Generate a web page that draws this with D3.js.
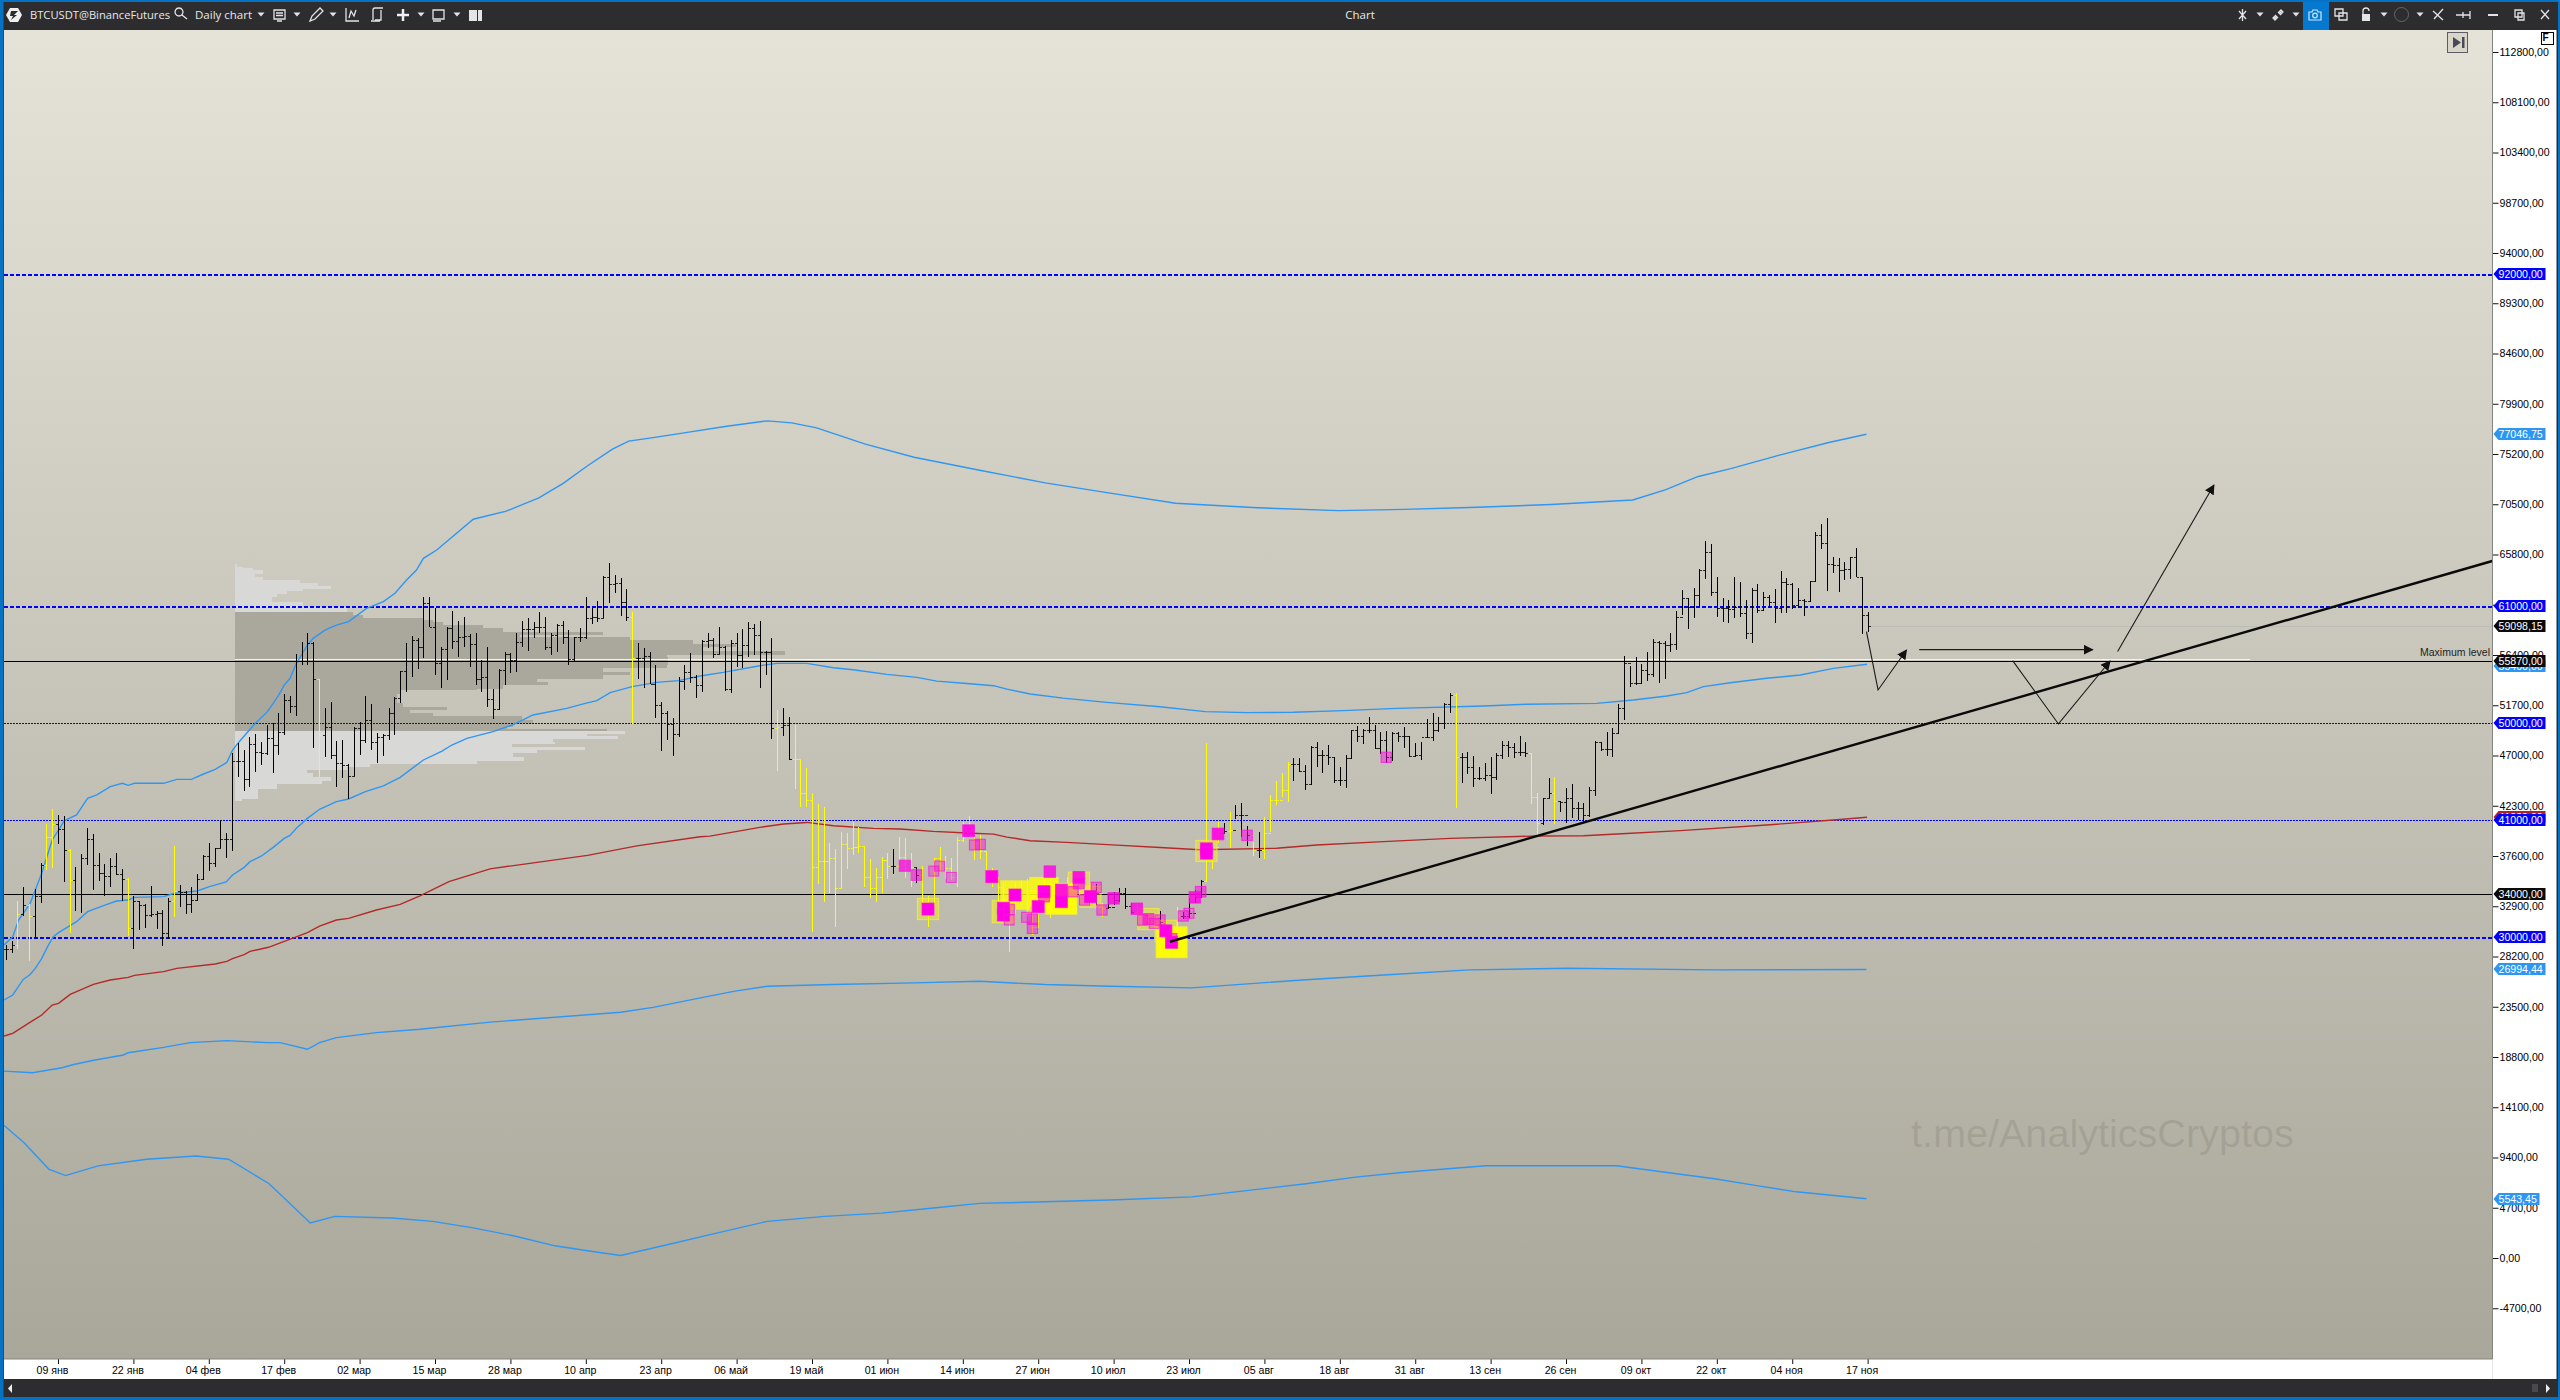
<!DOCTYPE html>
<html>
<head>
<meta charset="utf-8">
<title>Chart</title>
<script src="https://cdn.jsdelivr.net/npm/d3@7"></script>
<style>
html, body { margin: 0; padding: 0; background: #2d2d30; overflow: hidden; }
svg { display: block; }
</style>
</head>
<body>
<div id="chart"></div>
<script>
// prices below are in thousands of USDT. bar 1 = 31 dec
const firstOpen = 28.9;
const barHigh = [29.28,29.65,33.42,34.73,33.11,34.48,36.98,40.56,42.03,41.44,41.34,38.22,36.6,37.79,40.19,39.66,37.85,36.82,37.44,37.91,36.42,35.57,33.86,33.42,33.08,34.82,32.49,32.55,33.7,38.57,34.92,34.33,34.67,35.92,37.66,38.79,38.38,40.94,39.72,47.2,
48.2,47.51,48.76,48.98,48.23,49.85,50,50.94,52.72,52.6,56.49,57.65,58.43,57.58,54.2,51.41,52.03,48.39,48.45,46.2,49.69,50.16,52.6,51.78,49.13,49.01,51.41,52.5,54.9,57.49,58.2,57.96,61.85,61.79,60.76,57.18,59.05,60.48,59.58,59.92,
58.36,58.43,55.93,57.18,53.19,55.06,56.65,56.55,58.43,59.61,59.89,59.52,60.39,59.92,58.43,59.3,59.61,58.74,58.11,58.89,61.79,60.76,61.45,63.82,64.97,63.88,63.57,62.54,60.39,57.49,57.02,56.71,55.46,52.03,51.16,50.47,54.31,55.46,56.55,54.53,
57.8,58.43,57.96,58.98,57.24,57.8,58.42,58.8,59.51,59.3,59.61,56.8,58.02,51.25,51.47,50.63,49.85,46.57,45.79,43.52,42.46,42.21,38.78,38.22,39.87,39.71,40.81,40.34,38.56,37.28,36.44,37.47,37.84,38.22,39.4,39.25,37.84,36.44,36.69,33.85,
37.38,38.4,37.62,37.38,39.41,40.81,41.34,39.57,39.57,38.1,36.45,35.67,35.04,33.48,35.2,35.36,35.42,33.95,35.04,35.36,35.51,35.36,35.04,35.67,35.36,35.82,34.73,35.04,34.98,33.17,34.02,34.26,34.58,34.58,33.17,33.24,32.24,32.24,32.08,32.46,
31.15,30.06,32.8,32.39,33.64,34.42,35.36,48.14,38.94,40.81,40.66,41.75,42.37,42.53,40.41,38.94,39.88,41.28,43.31,44.65,45.33,46.43,46.74,46.74,46.11,47.89,48.23,47.52,48.02,46.83,45.96,47.05,49.39,49.79,49.45,50.57,49.86,49.23,49.33,49.17,
49.23,49.7,48.86,48.2,48.3,50.39,51.01,50.63,51.88,52.82,52.88,47.27,47.36,46.96,45.96,46.27,46.89,47.2,48.39,48.39,48.2,48.83,48.3,47.27,43.53,43.06,44.93,45.02,42.78,43.93,44.31,42.68,42.53,44.02,48.39,48.3,49.23,49.54,51.82,56.31,
55.37,56.18,55.53,56.71,57.87,57.74,57.74,58.49,60.52,62.48,61.76,62.7,64.46,67.1,66.78,63.73,61.76,61.55,63.73,63.26,61.55,62.64,63.01,62.33,62.01,62.54,64.29,63.57,63.1,62.64,61.61,63.35,67.88,68.65,69.19,65.6,65.44,65.13,65.6,66.38,63.67,60.45];
const barLow = [27.87,28.56,28.87,31.99,27.75,29.81,33.23,36.29,36.45,38.69,35.2,30.37,32.49,32.3,36.73,34.42,35.29,33.86,34.67,35.82,33.36,30.12,28.87,30.68,30.83,31.86,30.74,29.18,29.81,31.86,32.8,32.14,32.24,33.36,35.35,36.2,36.54,38.32,37.38,38.04,
45.02,43.71,44.02,45.49,46.11,47.04,45.33,47.04,48.92,50.94,50.72,55.46,55.46,47.67,45.02,46.89,46.64,44.02,44.86,42.9,45.08,47.04,48.14,47.51,46.26,46.98,48.45,48.92,51.88,52.97,54.31,55.06,56.09,58.99,54.53,53.28,54.06,56.93,56.24,57.12,
55.31,53.59,52.97,51.57,50.38,51.25,53.59,54.68,54.84,57.12,56.8,57.96,58.49,56.87,56.4,56.71,57.43,55.49,55.71,57.65,57.86,59.3,59.52,59.83,61.29,62.17,60.08,59.61,49.94,54.12,53.28,53.69,50.47,47.45,48.45,46.95,48.7,53.12,53.75,52.34,
52.97,57.02,56.09,56.49,53.06,52.81,55.3,55.15,56.24,56.4,53.28,54.49,48.51,45.54,48.82,46.57,43.83,42.15,42.21,30.45,34.94,33.32,34.1,30.98,34.57,36.35,37.69,37.84,34.66,33.63,33.26,34.1,35.41,35.91,37.06,35.5,34.73,35.1,33.01,30.92,
32.92,36.13,35.41,35.35,34.67,38.94,39.72,37.23,37.29,35.04,34.73,33.33,32.24,28.65,32.24,33,31.93,30.21,31,33.48,31.77,32.55,33.02,32.86,33.8,33.64,33.17,33.02,33.02,31.93,32.71,33.02,33.33,32.61,32.14,32.08,31.15,31.15,30.84,30.52,
29.9,29.43,29.53,31.68,31.77,33.17,33.8,35.2,36.35,38.79,39.72,38.32,41.06,39.35,38.57,37.6,37.45,37.29,39.82,42.37,43.15,42.68,44.62,45.49,43.78,44.24,45.9,45.4,46.11,44.4,44.18,43.93,46.67,48.23,48.08,49.14,47.58,47.14,46.27,46.52,
48.3,47.67,46.83,46.83,46.58,48.61,48.36,49.23,49.45,51.01,42.06,44.4,45.27,44.09,44.71,44.65,43.37,44.71,46.64,46.89,46.74,46.96,46.83,42.43,39.5,40.5,43,40.56,41.75,40.72,41.12,40.97,40.81,41.28,43.21,47.42,46.95,46.83,49.01,50.32,
53.38,53.6,53.69,54,54.37,53.75,54.16,56.71,56.87,60.14,58.8,59.83,60.92,63.48,61.95,59.99,59.52,59.43,59.83,59.99,57.87,57.49,60.3,60.55,60.77,59.36,60.3,60.3,60.67,60.77,60.08,61.39,63.26,66.29,62.39,64.1,62.26,63.42,63.48,63.67,58.33,58.58];
const barClose = [28.9,29.28,32.17,33,31.99,33.9,36.8,39.41,40.56,40.15,38.16,35.35,34,37.38,39.16,36.73,35.98,35.76,36.66,35.89,35.45,30.83,33.42,32.99,32.08,32.17,32.3,30.37,33.39,34.3,34.2,33.11,33.48,35.45,37.6,36.91,38.32,39.16,39.16,46.45,
46.45,44.77,48.04,47.32,47.2,48.6,47.95,49.23,52.19,51.63,55.87,55.87,57.49,54.12,48.9,49.63,47.04,46.26,46.08,45.08,49.6,48.45,50.32,48.29,48.7,48.92,50.94,52.34,54.9,55.87,57.8,57.18,61.29,58.99,55.62,56.99,58.89,57.74,58.05,58.18,
57.4,54.12,54.37,52.25,51.32,54.99,56.49,55.93,57.65,58.8,58.8,58.99,58.99,57.12,58.27,59.2,58.05,55.99,58.05,58.05,59.83,59.98,59.89,63.73,63.04,63.1,61.39,59.98,56.09,56.09,56.3,53.69,51.72,51,49.94,49.01,53.99,54.84,54.37,53.59,
57.74,57.8,56.49,57.17,53.18,57.49,56.4,57.33,58.89,58.27,56.71,56.71,49.54,49.69,49.85,46.64,46.64,43.52,42.83,36.6,37.16,37.16,37.38,34.57,38.69,38.31,38.47,38.53,35.6,34.57,35.6,37.22,36.66,36.66,37.53,37.22,36.6,35.82,33.32,33.17,
37.38,37.22,36.44,35.66,39.1,39.88,40.03,38.79,38.1,35.67,35.51,34.73,32.55,32.24,34.11,33.95,32.08,31,34.73,34.11,34.42,34.89,33.64,33.95,34.73,35.36,33.95,33.95,34.11,32.71,32.86,33.48,34.17,32.92,32.39,32.24,31.6,31.46,31.77,31.46,
30.06,29.53,31.99,31.99,32.24,33.73,35.29,37.23,38.47,39.72,39.97,40.03,41.44,41.44,39.57,38.16,38.16,39.72,42.84,42.84,43.78,46.18,46.21,45.55,44.31,47.83,47.05,47.05,46.83,44.71,44.71,46.74,49.39,48.86,49.39,49.39,47.67,48.45,46.83,49.08,
48.83,48.83,46.96,47.05,48.76,48.76,49.39,50.01,51.79,52.66,46.83,46.83,45.96,44.87,44.87,45.18,44.96,47.05,47.98,47.77,47.36,47.36,47.2,43.15,40.66,43,43.46,42.78,42.62,43,42.06,42.06,41.44,43.78,48.3,47.58,47.58,49.07,51.41,55.62,
53.75,53.81,55,54.62,57.65,57.55,57.34,57.4,59.99,61.7,60.92,62.01,64.35,66,62.26,60.77,60.77,60.67,60.86,60.3,58.43,62.48,60.61,61.86,61.39,60.77,63.26,63.04,61.08,61.55,61.45,63.32,67.63,66.91,64.91,64.82,64.35,64.41,65.54,63.67,60.14,59.1];
// bars the platform paints yellow
const yellowBars = [3,5,8,9,12,22,30,55,109,134,137,138,139,140,141,142,143,144,145,146,147,148,149,150,151,152,153,155,156,157,159,160,161,162,163,164,165,166,167,168,169,170,171,172,173,174,175,176,177,178,179,180,181,182,183,184,185,186,187,188,190,196,197,198,199,201,202,203,208,209,210,212,216,218,219,220,221,222,251,264,265,268];

const tickBars = [10,23,36,49,62,75,88,101,114,127,140,153,166,179,192,205,218,231,244,257,270,283,296,309,322];
const tickLabels = ["09 янв","22 янв","04 фев","17 фев","02 мар","15 мар","28 мар","10 апр","23 апр","06 май","19 май","01 июн","14 июн","27 июн","10 июл","23 июл","05 авг","18 авг","31 авг","13 сен","26 сен","09 окт","22 окт","04 ноя","17 ноя"];
const priceTicks = [112800,108100,103400,98700,94000,89300,84600,79900,75200,70500,65800,61100,56400,51700,47000,42300,37600,32900,28200,23500,18800,14100,9400,4700,0,-4700];

// channel lines, as bar number / price pairs
const bandTopBars = [0.7,2.2,3.2,5.2,7.2,9,10.1,11.1,13.2,15.1,16.7,19,21.1,22.1,23.2,28.2,30.5,33,35.1,37.1,39.1,40.1,41.1,43,44,46.1,47.1,48,49,50,51.1,53,54,56.1,58,60.1,63.2,66.1,68.1,70.1,71.8,73,75.3,81.6,87.3,92.9,97.1,101.3,105.6,108.4,112.6,118.2,125.3,132.3,136.5,140.8,149.2,157.6,168.9,180.2,191.4,202.7,216.8,230.8,242.1,253.4,267.4,281.5,287.1,292.8,298.4,306.8,315.3,321.8];
const bandTopValues = [29.28,30.05,31.61,33.17,35.98,39.1,40.03,40.91,41.44,42.99,43.31,44.09,44.4,44.21,44.4,44.4,44.77,44.77,45.27,45.71,46.35,47.51,48.2,49.38,50,51.1,51.88,52.6,53.59,54.22,55.62,57.33,57.96,58.74,59.2,59.52,60.76,61.39,62.17,63.41,64.35,65.44,66.22,69.1,69.86,71.1,72.46,74.1,75.66,76.4,76.73,77.2,77.8,78.3,78.11,77.65,76.12,74.9,73.68,72.5,71.54,70.6,70.17,69.9,70.02,70.2,70.47,70.9,71.85,73.1,73.83,75.1,76.28,77.05];
const bandMidBars = [0.7,2.2,4,5.1,6.1,7.2,8.2,9.2,10.1,13.2,15.1,18.2,20.1,22.1,23.2,28.2,30.1,34,36.1,39,40.1,42.1,43.1,45.1,47.1,49,50,51.1,53,55.1,58,60.1,63,66.1,69,73,76.2,77.9,80.5,85,88.5,91.9,97.7,100.9,102.9,105.2,109,113.2,117,120.7,124.7,131,134,139.1,143.7,147.1,152.9,158.1,161.5,166.7,171.3,173.6,177.6,183.3,190.8,200,207.8,215,223,231.6,240.8,255.8,263.2,275.3,281.6,287.4,290.8,293.7,298.3,304.6,310.4,316.1,321.9];
const bandMidValues = [24.13,24.6,26.06,26.47,27.09,28.03,29.12,30.05,30.43,31.46,32.39,33.02,33.39,33.48,33.73,33.8,34.11,34.33,34.73,35.17,35.82,36.54,37.07,37.6,38.41,39.25,39.53,40.19,41.12,41.97,42.68,42.93,43.62,44.15,44.96,46.58,47.42,47.98,48.6,49.23,49.88,50.79,51.41,51.88,52.13,52.88,53.44,53.84,54,54.43,54.77,55.4,55.62,55.62,55.21,55.02,54.59,54.31,53.96,53.74,53.53,53.21,52.75,52.37,51.97,51.56,51.1,51.01,51.04,51.2,51.41,51.63,51.79,51.88,52.19,52.57,52.88,53.44,53.81,54.22,54.53,55.15,55.53];
const vwapBars = [0.7,2.2,5.1,7.2,9,10.1,12.1,16.1,19,22.1,23.2,28.2,30.5,37.1,39.1,40.1,42.1,43.1,46.3,48.9,53,55.1,58,60.1,64.9,69,72.4,77.4,84.5,92.9,101.3,109.8,120.7,122.4,131,135.1,139.1,143.7,150.6,155.2,160.9,166.7,171.3,173.6,177.6,183.9,192.5,200,206.9,220.1,227,238.5,250,265,273,278.8,289.7,304.6,316.1,321.9];
const vwapValues = [20.76,21.01,22.01,22.73,23.66,23.82,24.66,25.6,26,26.25,26.44,26.78,27.09,27.5,27.75,28,28.37,28.68,29.06,29.59,30.43,31.05,31.61,31.77,32.55,33.08,33.86,35.2,36.4,37.03,37.66,38.55,39.4,39.46,40.28,40.59,40.74,40.43,40.18,40.12,39.9,39.75,39.65,39.37,39.03,38.87,38.62,38.4,38.19,38.32,38.63,38.94,39.25,39.47,39.5,39.66,39.97,40.5,40.97,41.22];
const bandLowBars = [0.6,5.6,10.7,12.7,16.4,21.3,22.1,28.2,32.8,39.1,46,48.3,53,55.1,58,64.9,72.4,84.5,107,112.6,121,126.7,132.3,143.6,157.6,168.9,180.2,191.4,205.5,225.2,239.3,253.4,270.2,295.6,321.8];
const bandLowValues = [17.48,17.33,17.79,18.1,18.52,18.99,19.2,19.7,20.14,20.33,20.14,20.14,19.52,20.14,20.61,21.08,21.39,22.06,22.98,23.44,24.35,24.96,25.42,25.58,25.73,25.88,25.58,25.42,25.27,26.03,26.49,26.95,27.1,26.95,26.99];
const bandBottomBars = [0.6,4.2,8.4,11.3,16.9,25.3,33.8,39.4,46.4,53.5,57.7,67.6,74.6,81.6,88.7,95.7,101.3,107,115.4,123.9,132.3,142.2,152,160.5,168.9,180.2,191.4,205.5,215.3,225.2,233.7,242.1,249.1,256.2,267.4,278.7,287.1,295.6,302.6,309.7,321.8];
const bandBottomValues = [12.44,10.76,8.32,7.71,8.62,9.24,9.54,9.24,6.95,3.28,3.89,3.74,3.43,2.82,2.06,1.14,0.68,0.23,1.29,2.37,3.43,3.89,4.2,4.65,5.11,5.26,5.42,5.72,6.33,6.95,7.56,8.02,8.32,8.63,8.63,8.63,8.02,7.41,6.79,6.19,5.54];

// volume profile of the feb-apr range
const profilePrice = [64.91,64.66,64.5,64.35,64.04,63.73,63.41,63.1,62.85,62.63,62.42,62.17,61.85,61.39,61.08,60.86,60.45,60.14,59.89,59.67,59.52,59.2,58.89,58.58,58.27,58.05,57.8,57.43,57.18,56.77,56.4,56.18,55.81,55.46,55.25,54.84,54.53,54.22,53.9,53.59,53.28,53.12,52.81,52.34,51.88,51.57,51.25,50.94,50.72,50.32,50,49.69,49.45,49.32,49.07,48.82,48.57,48.29,48.07,47.82,47.57,47.26,46.83,46.51,46.26,45.95,45.64,45.33,44.95,44.61,44.33,43.93,43.46,42.99,42.77];
const profileVolume = [5,25,55,85,60,85,195,250,287,205,155,125,110,205,205,335,355,385,565,595,625,745,805,1105,855,1185,1375,1503,1405,1650,1295,1300,1300,1295,1105,1185,1105,905,940,805,725,495,485,485,505,635,525,595,860,895,835,815,1115,1170,1055,1150,955,960,830,1050,905,835,867,725,405,335,215,235,287,260,125,70,70,20,0];
const valueAreaHigh = 60.5;
const valueAreaLow = 49.38;
const pocPrice = 55.87;

// volume clusters painted on the bars
const clusterBars = [156,158,160,161,162,164,167,168,169,171,173,173,174,174,175,177,178,178,179,180,180,181,183,183,185,186,186,187,188,189,190,192,196,197,198,199,200,201,202,202,204,205,206,207,208,208,210,215,239];
const clusterPrices = [36.69,35.82,32.64,36.19,36.66,35.6,39.97,38.63,38.69,35.67,32.71,32.08,32.61,31.61,33.95,31.87,31.68,30.83,32.86,34.26,33.8,36.14,33.33,34.42,34.26,35.6,35.04,33.48,33.8,34.67,32.55,33.64,32.67,31.61,31.7,31.3,31.61,30.6,29.53,29.85,31.99,32.24,33.73,34.26,38.27,37.87,39.66,39.53,46.83];
const clusterVols = [7,5,10,3,3,3,9,3,4,10,10,10,4,3,10,3,4,4,10,10,5,8,10,9,4,9,6,4,10,4,4,8,8,4,6,3,4,10,10,5,4,3,8,5,10,10,9,5,4];
const haloBars = [160,173,175,179,180,183,186,188,198,201,202,208];
const haloPrices = [32.64,32.4,33.95,33.3,34.26,33.6,35.1,33.8,31.7,30.6,29.53,38.07];
const haloVols = [2,3,8,3,8,10,2,2,2,2,10,2];

// drawn levels, the trendline and the scenario arrows
const thickLevels = [92000,61000,30000];
const thinLevels = [50000,41000];
const blackLevels = [55870,34000];
const lastPrice = 59098.15;
const trendBars = [201.7,429.7];
const trendPrices = [29.58,65.19];
const pathOneBars = [321.8,323.8,328.7];
const pathOnePrices = [58.58,53.13,56.87];
const pathTwoBars = [330.9,360.8];
const pathTwoPrices = [56.9,56.9];
const pathThreeBars = [347,354.9,363.8];
const pathThreePrices = [55.87,49.95,55.84];
const pathFourBars = [365.1,381.7];
const pathFourPrices = [56.73,72.3];

const tagValues = [92000,77046.75,61000,59098.15,55400,55870,50000,41220,41000,34000,30000,26994.44,5543.45];
const tagKinds = ["level","band","level","last","band","last","level","vwap","level","last","level","band","band"];
const tagColors = {level: "#0000ff", band: "#2d96f3", last: "#0a0a0a", vwap: "#b22222"};

const W = 2560, H = 1400;
const plot = {left: 4, right: 2492.5, top: 30, bottom: 1359};

const x = d3.scaleLinear().domain([0, 429.7]).range([0, 2492.3]);
const yScale = d3.scaleLinear().domain([0, 112800]).range([1258, 52]);
const y = k => yScale(k * 1000);

const svg = d3.select("#chart").append("svg").attr("width", W).attr("height", H);
const defs = svg.append("defs");

// window frame
svg.append("rect").attr("width", W).attr("height", H).attr("fill", "#0672c4");
svg.append("rect").attr("x", 3.5).attr("y", 2).attr("width", W - 5.5).attr("height", H - 5).attr("fill", "#2d2d30");
svg.append("rect").attr("x", plot.left).attr("y", plot.top).attr("width", 2552.5).attr("height", 1349).attr("fill", "#fff");

const grad = defs.append("linearGradient").attr("id", "bg").attr("x1", 0).attr("y1", 0).attr("x2", 0).attr("y2", 1);
grad.append("stop").attr("offset", 0).attr("stop-color", "#e5e3d8");
grad.append("stop").attr("offset", 1).attr("stop-color", "#a9a79a");
svg.append("rect").attr("x", plot.left).attr("y", plot.top)
    .attr("width", plot.right - plot.left).attr("height", plot.bottom - plot.top)
    .attr("fill", "url(#bg)");

defs.append("clipPath").attr("id", "plotClip").append("rect")
    .attr("x", plot.left).attr("y", plot.top)
    .attr("width", plot.right - plot.left).attr("height", plot.bottom - plot.top);
defs.append("marker").attr("id", "head").attr("viewBox", "0 0 10 10")
    .attr("refX", 9).attr("refY", 5).attr("markerWidth", 10).attr("markerHeight", 10)
    .attr("markerUnits", "userSpaceOnUse").attr("orient", "auto")
    .append("path").attr("d", "M0,0L10,5L0,10Z").attr("fill", "#111");

const g = svg.append("g").attr("clip-path", "url(#plotClip)");

// watermark
g.append("text").attr("x", 1911).attr("y", 1147)
    .attr("font-family", "Liberation Sans").attr("font-size", 39.6)
    .attr("fill", "#7d7b70").attr("fill-opacity", 0.28)
    .text("t.me/AnalyticsCryptos");

// volume profile
const volX = d3.scaleLinear().domain([0, 1650]).range([0, 550]);
const profileLeft = x(40.5);
g.append("g").selectAll("rect").data(profilePrice.slice(0, -1)).join("rect")
    .attr("x", profileLeft)
    .attr("y", d => y(d))
    .attr("width", (d, i) => volX(profileVolume[i]))
    .attr("height", (d, i) => y(profilePrice[i + 1]) - y(d) + 0.3)
    .attr("fill", d => (d <= valueAreaHigh && d > valueAreaLow) ? "#aaa89c" : "#d8d8d7")
    .attr("shape-rendering", "crispEdges");
g.append("line").attr("x1", profileLeft).attr("x2", x(388))
    .attr("y1", y(pocPrice) - 1).attr("y2", y(pocPrice) - 1)
    .attr("stroke", "#f2f2f0").attr("stroke-width", 1).attr("shape-rendering", "crispEdges");

// horizontal levels
function level(v, stroke, width, dash) {
    g.append("line").attr("x1", plot.left).attr("x2", plot.right)
        .attr("y1", Math.round(yScale(v)) + 0.5).attr("y2", Math.round(yScale(v)) + 0.5)
        .attr("stroke", stroke).attr("stroke-width", width)
        .attr("stroke-dasharray", dash)
        .attr("shape-rendering", "crispEdges");
}
thinLevels.forEach(v => level(v, "#0000ff", 1, "2 1"));
thickLevels.forEach(v => level(v, "#0000ff", 2, "4 2"));
blackLevels.forEach(v => level(v, "#000", 1, null));
g.append("line").attr("x1", x(322)).attr("x2", plot.right)
    .attr("y1", Math.round(yScale(lastPrice)) + 0.5).attr("y2", Math.round(yScale(lastPrice)) + 0.5)
    .attr("stroke", "#bdbdb8").attr("stroke-width", 1).attr("shape-rendering", "crispEdges");

g.append("text").attr("x", 2490).attr("y", yScale(55870) - 5)
    .attr("text-anchor", "end").attr("font-family", "Liberation Sans").attr("font-size", 10.5)
    .attr("fill", "#222").text("Maximum level");

// channel lines
const bandLine = d3.line().x(d => x(d[0])).y(d => y(d[1]));
const bands = [
    [bandTopBars, bandTopValues, "#2f96f2"],
    [bandMidBars, bandMidValues, "#2f96f2"],
    [vwapBars, vwapValues, "#b22a2a"],
    [bandLowBars, bandLowValues, "#2f96f2"],
    [bandBottomBars, bandBottomValues, "#2f96f2"]
];
bands.forEach(b => {
    g.append("path").datum(d3.zip(b[0], b[1]))
        .attr("fill", "none").attr("stroke", b[2]).attr("stroke-width", 1.4)
        .attr("d", bandLine);
});

// ohlc bars
const bars = barHigh.map((h, i) => ({
    n: i + 1,
    high: h,
    low: barLow[i],
    open: i ? barClose[i - 1] : firstOpen,
    close: barClose[i],
    yellow: yellowBars.includes(i + 1)
}));
const barG = g.append("g").attr("shape-rendering", "crispEdges");
const barX = d => Math.round(x(d.n)) + 0.5;
const barColor = d => d.yellow ? "#ffff00" : "#000";
barG.selectAll("line.stem").data(bars).join("line").attr("class", "stem")
    .attr("x1", barX).attr("x2", barX)
    .attr("y1", d => y(d.high)).attr("y2", d => y(d.low))
    .attr("stroke", barColor).attr("stroke-width", 1);
barG.selectAll("line.open").data(bars).join("line").attr("class", "open")
    .attr("x1", d => barX(d) - 2.5).attr("x2", barX)
    .attr("y1", d => Math.round(y(d.open)) + 0.5).attr("y2", d => Math.round(y(d.open)) + 0.5)
    .attr("stroke", barColor).attr("stroke-width", 1).attr("stroke-opacity", 0.8);
barG.selectAll("line.close").data(bars).join("line").attr("class", "close")
    .attr("x1", barX).attr("x2", d => barX(d) + 2.5)
    .attr("y1", d => Math.round(y(d.close)) + 0.5).attr("y2", d => Math.round(y(d.close)) + 0.5)
    .attr("stroke", barColor).attr("stroke-width", 1).attr("stroke-opacity", 0.8);

// clusters: yellow halo first, magenta square on top
const haloSide = d3.scaleLinear().domain([1, 10]).range([20, 31]);
const haloAlpha = d3.scaleLinear().domain([1, 10]).range([0.3, 0.95]);
const clusterSide = d3.scaleLinear().domain([3, 10]).range([10, 12]);
const clusterAlpha = d3.scaleLinear().domain([3, 10]).range([0.35, 1]);
g.append("g").selectAll("rect").data(haloBars).join("rect")
    .attr("x", (d, i) => x(d) - haloSide(haloVols[i]) / 2)
    .attr("y", (d, i) => y(haloPrices[i]) - haloSide(haloVols[i]) / 2)
    .attr("width", (d, i) => haloSide(haloVols[i]))
    .attr("height", (d, i) => haloSide(haloVols[i]))
    .attr("fill", "#ffff00").attr("fill-opacity", (d, i) => haloAlpha(haloVols[i]))
    .attr("stroke", "#f5ee3c").attr("stroke-opacity", 0.8);
g.append("g").selectAll("rect").data(clusterBars).join("rect")
    .attr("x", (d, i) => x(d) - clusterSide(clusterVols[i]) / 2)
    .attr("y", (d, i) => y(clusterPrices[i]) - clusterSide(clusterVols[i]) / 2)
    .attr("width", (d, i) => clusterSide(clusterVols[i]))
    .attr("height", (d, i) => clusterSide(clusterVols[i]))
    .attr("fill", "#ff00e6").attr("fill-opacity", (d, i) => clusterAlpha(clusterVols[i]))
    .attr("stroke", "#ff10e0").attr("stroke-opacity", 0.75);

// trendline and scenario
g.append("path").datum(d3.zip(trendBars, trendPrices))
    .attr("fill", "none").attr("stroke", "#0a0a0a").attr("stroke-width", 2.4).attr("d", bandLine);
[[pathOneBars, pathOnePrices], [pathTwoBars, pathTwoPrices], [pathThreeBars, pathThreePrices], [pathFourBars, pathFourPrices]].forEach((p, i) => {
    g.append("path").datum(d3.zip(p[0], p[1]))
        .attr("fill", "none").attr("stroke", "#1a1a1a").attr("stroke-width", i === 1 ? 1.4 : 1.1)
        .attr("marker-end", "url(#head)").attr("d", bandLine);
});

// price axis
const yAxis = svg.append("g").attr("transform", `translate(${plot.right},0)`)
    .call(d3.axisRight(yScale).tickValues(priceTicks).tickSize(6).tickPadding(1)
        .tickFormat(d => d3.format(".2f")(d).replace(".", ",").replace("−", "-")));
yAxis.select(".domain").remove();
yAxis.selectAll("line").attr("stroke", "#111");
yAxis.selectAll("text").attr("font-family", "Liberation Sans").attr("font-size", 10.6).attr("fill", "#000");
svg.append("line").attr("x1", plot.right).attr("x2", plot.right).attr("y1", plot.top).attr("y2", plot.bottom)
    .attr("stroke", "#85857f").attr("stroke-width", 1);
svg.append("line").attr("x1", plot.right).attr("x2", plot.right).attr("y1", plot.bottom).attr("y2", 1379)
    .attr("stroke", "#e6e6e6").attr("stroke-width", 1);

// time axis
const xAxis = svg.append("g").attr("transform", `translate(0,${plot.bottom})`)
    .call(d3.axisBottom(x).tickValues(tickBars).tickSize(5).tickPadding(2)
        .tickFormat((d, i) => tickLabels[i]));
xAxis.select(".domain").remove();
xAxis.selectAll("line").attr("stroke", "#111");
xAxis.selectAll("text").attr("dx", -6).attr("font-family", "Liberation Sans").attr("font-size", 10.6).attr("fill", "#000");
svg.append("line").attr("x1", plot.left).attr("x2", plot.right).attr("y1", plot.bottom).attr("y2", plot.bottom)
    .attr("stroke", "#85857f").attr("stroke-width", 1);

// price tags
const tagG = svg.append("g");
tagValues.forEach((v, i) => {
    const yy = yScale(v);
    const label = d3.format(".2f")(v).replace(".", ",");
    const w = label.length > 7 ? 50 : 44;
    const t = tagG.append("g").attr("transform", `translate(${plot.right + 1},${Math.round(yy)})`);
    t.append("path").attr("d", `M0,0L5,-6H${w + 2}V6H5Z`).attr("fill", tagColors[tagKinds[i]]);
    t.append("text").attr("x", 5).attr("y", 4).attr("font-family", "Liberation Sans").attr("font-size", 10.6)
        .attr("fill", "#fff").text(label);
});

// F box on the price axis and jump button
svg.append("rect").attr("x", 2541.5).attr("y", 32.5).attr("width", 12).attr("height", 12).attr("fill", "#fff").attr("stroke", "#000");
svg.append("text").attr("x", 2542.5).attr("y", 41).attr("font-family", "Liberation Sans").attr("font-weight", "bold").attr("font-size", 10).text("F");
svg.append("rect").attr("x", 2447.5).attr("y", 32.5).attr("width", 20).attr("height", 20).attr("fill", "#d8d6c9").attr("stroke", "#5d5d68");
svg.append("path").attr("d", "M2453,37L2461,42.5L2453,48ZM2462,37H2464.5V48H2462Z").attr("fill", "#4a4a55");

// title bar
const ui = svg.append("g").attr("font-family", "Open Sans").attr("font-size", 11.5).attr("fill", "#e8e8e8");
ui.append("text").attr("x", 30).attr("y", 19).attr("textLength", 140).attr("lengthAdjust", "spacingAndGlyphs").text("BTCUSDT@BinanceFutures");
ui.append("text").attr("x", 195).attr("y", 19).text("Daily chart");
ui.append("text").attr("x", 1360).attr("y", 19).attr("text-anchor", "middle").text("Chart");

const stroke = "#e4e4e4";
function icon(d, fill) {
    svg.append("path").attr("d", d).attr("fill", fill ? stroke : "none").attr("stroke", fill ? "none" : stroke)
        .attr("stroke-width", 1.3);
}
// logo
svg.append("path").attr("d", "M6,15L10,8H18L22,15L18,22H10Z").attr("fill", "#f0f0f0");
svg.append("path").attr("d", "M11,11H18L14,15H17L11,20L13,16H10Z").attr("fill", "#2d2d30");
// search
icon("M179,8a4,4 0 1,0 0.01,0M182,15L187,19");
[261, 297, 333, 421, 457, 2260, 2296, 2384, 2420].forEach(c => icon(`M${c - 3.5},12.5H${c + 3.5}L${c},16.5Z`, true));
// monitor
icon("M274,10H285V19H274ZM276,13H283M276,15.5H283M277,21H282");
// pencil
icon("M310,21L312,16L320,8L323,11L315,19Z");
// mini chart
icon("M346,8V21H359M349,18L351,11L354,16L356,10");
// script
icon("M373,20V10Q373,8 375,8H383M375,20H381V10M371,21H380");
// cross
svg.append("path").attr("d", "M403,9V21M397,15H409").attr("stroke", "#f0f0f0").attr("stroke-width", 2.5);
// window
icon("M433,10H444V19H433ZM433,21H441");
// columns
svg.append("rect").attr("x", 469).attr("y", 10).attr("width", 13).attr("height", 11).attr("fill", stroke);
svg.append("line").attr("x1", 477.5).attr("x2", 477.5).attr("y1", 10).attr("y2", 21).attr("stroke", "#2d2d30");

// right side of the title bar
icon("M2239,11L2246,19M2246,11L2239,19M2242.5,9V21");
icon("M2274,19L2277,16M2279,14L2282,11M2276,15l-3,3l2,2l3,-3M2280,15l3,-3l-2,-2l-3,3");
svg.append("rect").attr("x", 2303).attr("y", 2).attr("width", 26).attr("height", 28).attr("fill", "#0479cf");
svg.append("path").attr("d", "M2309,12H2312L2313,10H2317L2318,12H2321V20H2309Z").attr("fill", "none").attr("stroke", "#cfe6f7").attr("stroke-width", 1.2);
svg.append("circle").attr("cx", 2315).attr("cy", 15.5).attr("r", 2.3).attr("fill", "none").attr("stroke", "#cfe6f7").attr("stroke-width", 1.2);
icon("M2335,9H2343V16H2335ZM2339,13H2347V20H2339Z");
icon("M2363,14V11a3,3 0 0,1 6,0");
svg.append("rect").attr("x", 2362).attr("y", 14).attr("width", 8).attr("height", 7).attr("fill", stroke);
svg.append("circle").attr("cx", 2401.5).attr("cy", 14.5).attr("r", 7).attr("fill", "none").attr("stroke", "#66666a");
icon("M2433,11L2443,20M2443,9L2434,19");
icon("M2456,15H2470M2463,12V18M2470,11V19");
svg.append("rect").attr("x", 2488).attr("y", 14).attr("width", 10).attr("height", 2).attr("fill", stroke);
icon("M2515,10H2522V17H2515ZM2518,13H2524V20H2518Z");
icon("M2541,10L2549,19M2549,10L2541,19");
// scroll arrows at the bottom
svg.append("path").attr("d", "M12,1384V1393L8,1388.5Z").attr("fill", "#eee");
svg.append("path").attr("d", "M2546,1384V1393L2550,1388.5Z").attr("fill", "#eee");
svg.append("rect").attr("x", 2532).attr("y", 1384).attr("width", 6).attr("height", 8).attr("fill", "#4a4a4e");
</script>
</body>
</html>
